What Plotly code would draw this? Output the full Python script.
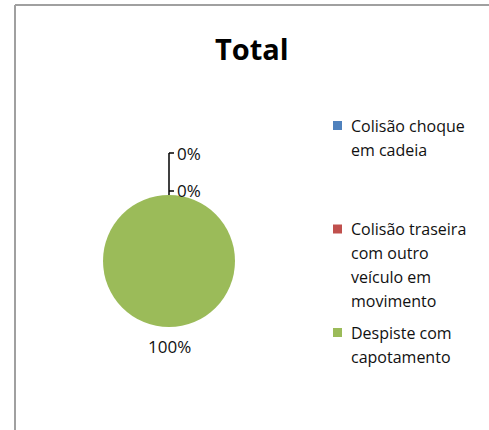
import textwrap
import plotly.graph_objects as go

W, H = 489, 430

# chart data
categories = [
    "Colisão choque em cadeia",
    "Colisão traseira com outro veículo em movimento",
    "Despiste com capotamento",
]
counts = [0, 0, 1]
colors = ["#4F81BD", "#C0504D", "#9BBB59"]
chart_title = "Total"

FONT = "Open Sans"
TEXT_COLOR = "#111111"


def fx(p):
    """pixel x -> paper x"""
    return p / W


def fy(p):
    """pixel y (from top) -> paper y"""
    return 1 - p / H


total = sum(counts)
pct_labels = [f"{100 * c / total:.0f}%" for c in counts]

# pie placement (pixels)
cx, cy, r = 169, 261, 66

fig = go.Figure(
    go.Pie(
        labels=categories,
        values=counts,
        sort=False,
        direction="clockwise",
        marker=dict(colors=colors, line=dict(width=0)),
        textinfo="none",
        hoverinfo="label+percent",
        showlegend=False,
        domain=dict(x=[fx(cx - r), fx(cx + r)], y=[fy(cy + r), fy(cy - r)]),
    )
)

annotations = []
shapes = []

# frame (left and top edges of the chart box)
shapes.append(dict(type="line", xref="paper", yref="paper",
                   x0=fx(15), x1=fx(W + 5), y0=fy(5), y1=fy(5),
                   line=dict(color="#a0a0a0", width=2)))
shapes.append(dict(type="line", xref="paper", yref="paper",
                   x0=fx(15), x1=fx(15), y0=fy(5), y1=fy(H + 5),
                   line=dict(color="#a0a0a0", width=2)))

# title
annotations.append(dict(text=f"<b>{chart_title}</b>", x=fx(252), y=fy(48),
                        xref="paper", yref="paper", showarrow=False,
                        xanchor="center", yanchor="middle",
                        font=dict(family=FONT, size=29, color="#000000")))

# data labels: non-zero slice below the pie, zero slices stacked above it
zero_y = [153, 191]
zi = 0
leader_top = None
for c, lab in zip(counts, pct_labels):
    if c == 0:
        y = zero_y[zi]
        zi += 1
        annotations.append(dict(text=lab, x=fx(cx + 6), y=fy(y), xref="paper", yref="paper",
                                showarrow=False, xanchor="left", yanchor="middle",
                                font=dict(family=FONT, size=17, color=TEXT_COLOR)))
        shapes.append(dict(type="line", xref="paper", yref="paper",
                           x0=fx(cx), x1=fx(cx + 5), y0=fy(y), y1=fy(y),
                           line=dict(color="#000000", width=1.5)))
        leader_top = y if leader_top is None else min(leader_top, y)
    else:
        annotations.append(dict(text=lab, x=fx(cx), y=fy(cy + r + 19), xref="paper", yref="paper",
                                showarrow=False, xanchor="center", yanchor="middle",
                                font=dict(family=FONT, size=17, color=TEXT_COLOR)))
if leader_top is not None:
    shapes.append(dict(type="line", xref="paper", yref="paper",
                       x0=fx(cx), x1=fx(cx), y0=fy(cy - r), y1=fy(leader_top),
                       line=dict(color="#000000", width=1.5)))

# legend: colour square + wrapped label lines
leg_x, leg_y0, item_step, line_step, sq = 337.5, 125.5, 103.5, 24, 9
for i, (name, col) in enumerate(zip(categories, colors)):
    y0 = leg_y0 + i * item_step
    shapes.append(dict(type="rect", xref="paper", yref="paper",
                       x0=fx(leg_x - sq / 2), x1=fx(leg_x + sq / 2),
                       y0=fy(y0 - sq / 2), y1=fy(y0 + sq / 2),
                       fillcolor=col, line=dict(width=0)))
    for j, line in enumerate(textwrap.wrap(name, 16)):
        annotations.append(dict(text=line, x=fx(349), y=fy(y0 + j * line_step),
                                xref="paper", yref="paper", showarrow=False,
                                xanchor="left", yanchor="middle",
                                font=dict(family=FONT, size=16, color=TEXT_COLOR)))

fig.update_layout(
    width=W, height=H,
    margin=dict(l=0, r=0, t=0, b=0),
    paper_bgcolor="white", plot_bgcolor="white",
    annotations=annotations, shapes=shapes,
)

fig.write_html("out.html")
